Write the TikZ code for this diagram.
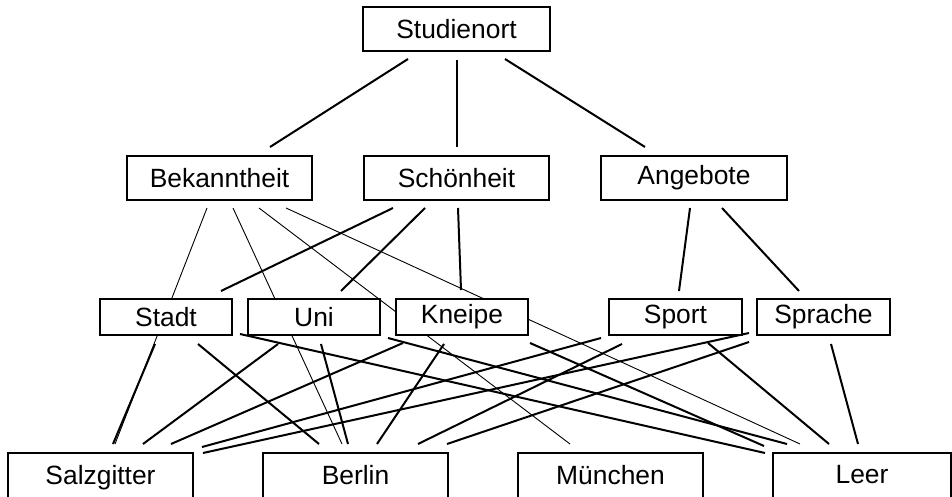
\documentclass[tikz,border=0pt]{standalone}
\usepackage{fontspec}
\setmainfont{Liberation Sans}
\pgfdeclarelayer{background}
\pgfsetlayers{background,main}
\begin{document}
\begin{tikzpicture}[x=0.5pt,y=-0.5pt,
  box/.style 2 args={draw, line width=1pt, fill=white, inner sep=0pt,
    minimum width=#1*0.5pt, minimum height=#2*0.5pt,
    font=\fontsize{13.2}{15}\selectfont},
  citybox/.style={box={#1}{48}, text depth=0pt},
  thickline/.style={line width=1pt},
  thinline/.style={line width=0.45pt}]
\useasboundingbox (0,0) rectangle (952,497);
% nodes
\node[box={187}{44}] (stud) at (456.5,29) {Studienort};
\node[box={185}{44}] (bek) at (219.5,178) {Bekanntheit};
\node[box={185}{44}] (schoen) at (456.5,178) {Schönheit};
\node[box={186}{44}] (ang) at (694,178) {Angebote};
\node[box={132}{36}] (stadt) at (166,317) {Stadt};
\node[box={132}{36}] (uni) at (314,317) {Uni};
\node[box={132}{36}] (kneipe) at (462,317) {Kneipe};
\node[box={133}{36}] (sport) at (675.5,317) {Sport};
\node[box={133}{36}] (sprache) at (823.5,317) {Sprache};
\node[citybox=185] (salz) at (100.5,477) {\raisebox{2.5pt}{Salzgitter}};
\node[citybox=185] (berlin) at (355.5,477) {\raisebox{2.5pt}{Berlin}};
\node[citybox=185] (muen) at (610.5,477) {\raisebox{2.5pt}{München}};
\node[citybox=178] (leer) at (862,477) {\raisebox{2.5pt}{Leer}};
\begin{pgfonlayer}{background}
% top level
\draw[thickline] ([shift={(-48.5,30)}]stud.center) -- ([shift={(50.5,-31)}]bek.center);
\draw[thickline] ([shift={(0.5,31)}]stud.center) -- ([shift={(0.5,-31)}]schoen.center);
\draw[thickline] ([shift={(48.5,30)}]stud.center) -- ([shift={(-49,-31)}]ang.center);
% Schoenheit
\draw[thickline] ([shift={(-63.5,30)}]schoen.center) -- ([shift={(55,-26)}]stadt.center);
\draw[thickline] ([shift={(-31.5,30)}]schoen.center) -- ([shift={(27,-26)}]uni.center);
\draw[thickline] ([shift={(1.5,30)}]schoen.center) -- ([shift={(-1,-27)}]kneipe.center);
% Angebote
\draw[thickline] ([shift={(-4,30)}]ang.center) -- ([shift={(3.5,-26)}]sport.center);
\draw[thickline] ([shift={(28,30)}]ang.center) -- ([shift={(-24.5,-26)}]sprache.center);
% Bekanntheit (thin, direct to cities)
\draw[thinline] ([shift={(-12.5,30)}]bek.center) -- ([shift={(14.5,-33)}]salz.center);
\draw[thinline] ([shift={(13.5,30)}]bek.center) -- ([shift={(-13.5,-33)}]berlin.center);
\draw[thinline] ([shift={(39.5,30)}]bek.center) -- ([shift={(-40.5,-33)}]muen.center);
\draw[thinline] ([shift={(66.5,30)}]bek.center) -- ([shift={(-62,-33)}]leer.center);
% Stadt
\draw[thickline] ([shift={(-11,27)}]stadt.center) -- ([shift={(12.5,-33)}]salz.center);
\draw[thickline] ([shift={(32,27)}]stadt.center) -- ([shift={(-36.5,-33)}]berlin.center);
\draw[thickline] ([shift={(74,17)}]stadt.center) -- ([shift={(-97,-24)}]leer.center);
% Uni
\draw[thickline] ([shift={(-36,27)}]uni.center) -- ([shift={(42.5,-33)}]salz.center);
\draw[thickline] ([shift={(7,27)}]uni.center) -- ([shift={(-7.5,-33)}]berlin.center);
\draw[thickline] ([shift={(74,21)}]uni.center) -- ([shift={(-75,-33)}]leer.center);
% Kneipe
\draw[thickline] ([shift={(-59,26)}]kneipe.center) -- ([shift={(70.5,-33)}]salz.center);
\draw[thickline] ([shift={(-18,27)}]kneipe.center) -- ([shift={(21.5,-33)}]berlin.center);
\draw[thickline] ([shift={(68,26)}]kneipe.center) -- ([shift={(-98,-31)}]leer.center);
% Sport
\draw[thickline] ([shift={(-74.5,21)}]sport.center) -- ([shift={(101.5,-30)}]salz.center);
\draw[thickline] ([shift={(-53.5,27)}]sport.center) -- ([shift={(62.5,-33)}]berlin.center);
\draw[thickline] ([shift={(32.5,26)}]sport.center) -- ([shift={(-33,-33)}]leer.center);
% Sprache
\draw[thickline] ([shift={(-74.5,16)}]sprache.center) -- ([shift={(102.5,-24)}]salz.center);
\draw[thickline] ([shift={(-74.5,25)}]sprache.center) -- ([shift={(91.5,-33)}]berlin.center);
\draw[thickline] ([shift={(7.5,27)}]sprache.center) -- ([shift={(-4,-33)}]leer.center);
\end{pgfonlayer}
\end{tikzpicture}
\end{document}
